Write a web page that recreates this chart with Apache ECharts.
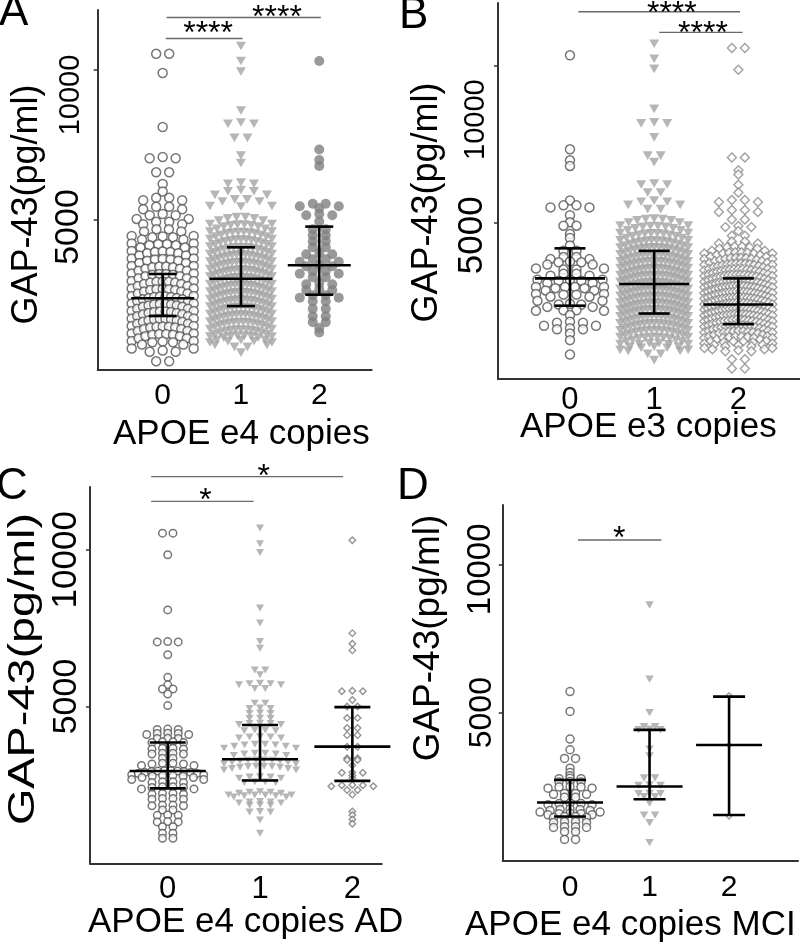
<!DOCTYPE html>
<html><head><meta charset="utf-8">
<script src="https://cdn.jsdelivr.net/npm/echarts@6/dist/echarts.min.js"></script>
<style>html,body{margin:0;padding:0;background:#fff}#c{width:800px;height:944px}</style>
</head><body><div id="c"></div>
<script>
// ---------------- DATA ----------------
const categories = ['0', '1', '2'];
const yTickValues = [5000, 10000];

// beeswarm rows: [GAP-43 value (pg/ml), number of points in the row]
const A0 = [[10550,2],[9900,1],[8100,1],[7100,3],[6600,2],[6200,1],[5950,1],[5750,4],[5450,4],[5200,5],[4950,4],[4700,6],[4450,7],[4200,8],[3950,9],[3700,9],[3450,10],[3200,10],[2950,11],[2700,11],[2450,12],[2200,12],[1950,12],[1700,12],[1450,11],[1200,10],[950,7],[650,3],[300,2]];
const A1 = [[10800,1],[10300,1],[9950,1],[8650,1],[8250,3],[7750,2],[7150,1],[6900,1],[6250,3],[6000,5],[5700,6],[5450,1],[5100,8],[4850,10],[4600,12],[4350,13],[4100,14],[3850,15],[3600,15],[3350,16],[3100,16],[2850,16],[2600,16],[2350,16],[2100,15],[1850,15],[1600,14],[1350,13],[1150,10],[1000,5],[780,2],[580,1]];
const A2 = [[10300,1],[7350,1],[7000,1],[6800,1],[5550,4],[5400,1],[5200,3],[4950,1],[4700,2],[4500,2],[4300,2],[4100,2],[3900,3],[3700,4],[3500,3],[3300,4],[3100,2],[2900,3],[2700,3],[2500,4],[2300,2],[2050,2],[1800,2],[1600,2],[1400,1],[1250,1]];

const B0 = [[10330,1],[7330,1],[6980,1],[6800,1],[5700,1],[5550,4],[5230,1],[5000,1],[4900,2],[4630,1],[4500,1],[4260,1],[4100,2],[3900,4],[3750,7],[3500,2],[3370,6],[3160,7],[2940,8],[2700,6],[2400,7],[2200,2],[2040,1],[1830,5],[1620,3],[1450,1],[1240,1],[780,1]];
const B1 = [[10700,1],[10220,1],[9900,1],[8620,1],[8190,3],[7710,1],[7140,2],[6920,1],[6240,3],[5960,2],[5690,5],[5430,2],[5120,9],[4880,10],[4650,12],[4420,14],[4200,15],[3980,16],[3760,16],[3540,17],[3320,17],[3100,17],[2880,17],[2660,17],[2440,17],[2220,16],[2000,16],[1780,15],[1560,14],[1340,12],[1150,8],[1030,5],[810,2],[600,1]];
const B2 = [[10570,2],[9870,1],[7080,2],[6660,1],[6530,1],[6200,1],[5950,1],[5720,4],[5400,4],[5100,2],[4880,3],[4720,1],[4580,2],[4400,4],[4230,10],[4050,12],[3870,14],[3690,16],[3510,17],[3330,18],[3150,19],[2970,20],[2790,20],[2610,20],[2430,20],[2250,20],[2070,19],[1890,18],[1710,17],[1530,15],[1360,12],[1210,8],[1080,5],[920,3],[640,2],[340,2]];

const C0 = [[10530,2],[9840,1],[8080,1],[7070,3],[6650,1],[5930,1],[5690,1],[5560,2],[5400,1],[5030,1],[4280,3],[4150,5],[3990,3],[3880,4],[3670,4],[3510,4],[3350,2],[3190,6],[2950,12],[2800,8],[2600,4],[2440,6],[2230,4],[2070,4],[1860,4],[1700,2],[1540,3],[1330,3],[1170,2],[960,2],[800,2]];
const C1 = [[10690,1],[10190,1],[9910,1],[8140,1],[7660,1],[7070,1],[6860,1],[6170,2],[6010,1],[5740,5],[5580,2],[5110,2],[4950,3],[4790,3],[4630,3],[4470,5],[4250,4],[4040,5],[3800,8],[3510,6],[3300,10],[3100,10],[2760,5],[2600,4],[2280,7],[2180,6],[1970,5],[1860,3],[1650,3],[1380,1],[960,1]];
const C2 = [[10300,1],[7340,1],[7000,1],[6790,1],[5500,3],[5210,1],[5000,2],[4640,2],[4320,2],[4090,2],[3720,2],[3350,2],[3300,2],[3130,1],[2900,3],[2800,1],[2710,1],[2500,5],[2340,2],[2190,1],[1650,1],[1540,1],[1400,1],[1260,1]];

const D0 = [[5710,1],[5040,1],[4110,1],[3750,1],[3460,2],[3130,1],[2980,1],[2870,1],[2790,3],[2680,3],[2510,5],[2280,4],[2150,2],[1950,5],[1750,7],[1610,5],[1500,4],[1330,4],[1160,4],[990,2],[730,2]];
const D1 = [[8630,1],[6130,1],[5000,1],[4530,2],[4440,3],[3770,1],[3540,1],[2800,2],[2560,3],[2280,3],[2170,2],[1950,1],[1550,2],[1290,1],[620,1]];
const D2 = [[5590,1],[3910,1],[1500,1]];

// median and interquartile range per group
const A_median = [2390, 3040, 3490], A_q1 = [1800, 2130, 2510], A_q3 = [3200, 4090, 4780];
const B_median = [3210, 3030, 2380], B_q1 = [2340, 2090, 1750], B_q3 = [4170, 4090, 3210];
const C_median = [2945, 3320, 3720], C_q1 = [2390, 2640, 2630], C_q3 = [3850, 4410, 4980];
const D_median = [1970, 2510, 3910], D_q1 = [1500, 2080, 1550], D_q3 = [2730, 4420, 5540];

// significance brackets: [from group, to group, bar height, label position, label height]
const A_sig = [[0.04, 1.02, 11050, 0.58, 11417], [0.05, 2.02, 11750, 1.46, 11950]];
const A_sigText = ['****', '****'];
const B_sig = [[0.10, 2.02, 11720, 1.21, 11867], [1.06, 2.05, 11060, 1.58, 11228]];
const B_sigText = ['****', '****'];
const C_sig = [[-0.18, 1.90, 12330, 1.04, 12550], [-0.18, 0.93, 11540, 0.41, 11784]];
const C_sigText = ['*', '*'];
const D_sig = [[0.10, 1.15, 10820, 0.62, 11088]];
const D_sigText = ['*'];

// ---------------- LAYOUT / STYLE ----------------
const FONT = 'Liberation Sans, Arial, sans-serif';
const triPath = 'path://M0,0L10,0L5,8.7Z';
function openCircle(size, stroke){ return {symbol:'circle', symbolSize:size, itemStyle:{color:'#fff', borderColor:stroke, borderWidth:1.5}}; }
function tri(size){ return {symbol:triPath, symbolSize:[size, size*0.87], itemStyle:{color:'#a4a4a4'}}; }
function fillCircle(size){ return {symbol:'circle', symbolSize:size, itemStyle:{color:'#7f7f7f'}}; }
function openDiamond(size, stroke){ return {symbol:'diamond', symbolSize:size, itemStyle:{color:'#fff', borderColor:stroke, borderWidth:1.4}}; }

const panels = [
  {grid:{left:97.7, top:10, width:274, height:360}, xMin:-0.83, xMax:2.67,
   groups:[A0,A1,A2], styles:[openCircle(9,'#555'), tri(10), fillCircle(10)], d:13, half:31, droop:7,
   median:A_median, q1:A_q1, q3:A_q3, bar:[31.5,14], sig:A_sig, sigText:A_sigText,
   yFont:{5000:34, 10000:29}, yShift:{5000:7, 10000:25}, xLabelSize:30, xLabelMargin:11, yLabelMargin:12},
  {grid:{left:498, top:3, width:302, height:376}, xMin:-0.855, xMax:2.732,
   groups:[B0,B1,B2], styles:[openCircle(9,'#555'), tri(10), openDiamond(9,'#8a8a8a')], d:13, half:34, droop:7,
   median:B_median, q1:B_q1, q3:B_q3, bar:[35,15.5], sig:B_sig, sigText:B_sigText,
   yFont:{5000:35, 10000:29}, yShift:{5000:13, 10000:54}, xLabelSize:31, xLabelMargin:6, yLabelMargin:8},
  {grid:{left:90, top:487, width:291.7, height:376.3}, xMin:-0.842, xMax:2.318,
   groups:[C0,C1,C2], styles:[openCircle(7.5,'#555'), tri(8), openDiamond(6.5,'#777')], d:10.5, half:36, droop:4,
   median:C_median, q1:C_q1, q3:C_q3, bar:[38,18], sig:C_sig, sigText:C_sigText,
   yFont:{5000:34, 10000:35}, yShift:{5000:-10, 10000:10}, xLabelSize:31, xLabelMargin:11, yLabelMargin:6},
  {grid:{left:502.7, top:505, width:295.3, height:356}, xMin:-0.847, xMax:2.867,
   groups:[D0,D1,D2], styles:[openCircle(8,'#555'), tri(8.5), openDiamond(5,'#888')], d:11, half:30, droop:3,
   median:D_median, q1:D_q1, q3:D_q3, bar:[33,16], sig:D_sig, sigText:D_sigText,
   yFont:{5000:32, 10000:33}, yShift:{5000:0, 10000:5}, xLabelSize:30, xLabelMargin:12, yLabelMargin:5}
];

// beeswarm layout: spread each row horizontally; slight arc like the original swarm bands
function swarm(rows, center, pxPerUnit, d, maxHalf, droop){
  const pts = [];
  rows.forEach(function(r){
    const v = r[0], n = r[1];
    const s = n > 1 ? Math.min(d, 2*maxHalf/(n-1)) : 0;
    for (let i = 0; i < n; i++) {
      const off = (i - (n-1)/2) * s;
      const dy = droop * Math.pow(off/maxHalf, 2);
      pts.push({value:[center + off/pxPerUnit, v], symbolOffset:[0, dy]});
    }
  });
  return pts;
}

const grids = [], xAxes = [], yAxes = [], series = [];
panels.forEach(function(p, pi){
  grids.push(p.grid);
  const axLine = {show:true, onZero:false, lineStyle:{color:'#333', width:2}};
  xAxes.push({type:'value', gridIndex:pi, min:p.xMin, max:p.xMax, axisLine:axLine, axisTick:{show:false},
    splitLine:{show:false},
    axisLabel:{customValues:[0,1,2], formatter:function(v){return categories[Math.round(v)];},
      fontSize:p.xLabelSize, fontFamily:FONT, color:'#000', margin:p.xLabelMargin}});
  const rich = {};
  yTickValues.forEach(function(v, k){
    const s = p.yShift[v] || 0;
    rich['t'+k] = {fontSize:p.yFont[v], fontFamily:FONT, color:'#000',
      padding: s >= 0 ? [0, 2*s, 0, 0] : [0, 0, 0, -2*s]};
  });
  yAxes.push({type:'value', gridIndex:pi, min:0, max:12000, axisLine:axLine,
    axisTick:{show:true, customValues:yTickValues, length:4, lineStyle:{color:'#333', width:1.5}},
    splitLine:{show:false},
    axisLabel:{customValues:yTickValues, rotate:90, fontSize:32, fontFamily:FONT, color:'#000', margin:p.yLabelMargin,
      formatter:function(v){ const k = yTickValues.indexOf(v); return '{t'+k+'|'+String(v)+'}'; }, rich:rich}});
  const ppu = p.grid.width/(p.xMax - p.xMin);
  p.groups.forEach(function(rows, gi){
    series.push(Object.assign({type:'scatter', xAxisIndex:pi, yAxisIndex:pi, z:2,
      data: swarm(rows, gi, ppu, p.d, p.half, p.droop), silent:true}, p.styles[gi]));
  });
  const W = p.bar[0], Cw = p.bar[1];
  series.push({type:'custom', xAxisIndex:pi, yAxisIndex:pi, z:5, clip:false, silent:true,
    data: categories.map(function(c, i){ return [i, p.median[i], p.q1[i], p.q3[i]]; }),
    renderItem: function(params, api){
      const x = api.value(0);
      const pm = api.coord([x, api.value(1)]), pl = api.coord([x, api.value(2)]), ph = api.coord([x, api.value(3)]);
      const st = {stroke:'#000', lineWidth:2.6};
      return {type:'group', children:[
        {type:'line', shape:{x1:pm[0]-W, y1:pm[1], x2:pm[0]+W, y2:pm[1]}, style:st},
        {type:'line', shape:{x1:pm[0], y1:ph[1], x2:pm[0], y2:pl[1]}, style:st},
        {type:'line', shape:{x1:pm[0]-Cw, y1:ph[1], x2:pm[0]+Cw, y2:ph[1]}, style:st},
        {type:'line', shape:{x1:pm[0]-Cw, y1:pl[1], x2:pm[0]+Cw, y2:pl[1]}, style:st}
      ]};
    }});
  series.push({type:'custom', xAxisIndex:pi, yAxisIndex:pi, z:6, clip:false, silent:true,
    data: p.sig,
    renderItem: function(params, api){
      const a = api.coord([api.value(0), api.value(2)]), b = api.coord([api.value(1), api.value(2)]);
      const t = api.coord([api.value(3), api.value(4)]);
      return {type:'group', children:[
        {type:'line', shape:{x1:a[0], y1:a[1], x2:b[0], y2:b[1]}, style:{stroke:'#6a6a6a', lineWidth:1.3}},
        {type:'text', style:{text:p.sigText[params.dataIndex], x:t[0], y:t[1]+7, fill:'#000',
          fontSize:32, fontFamily:FONT, align:'center', verticalAlign:'middle'}}
      ]};
    }});
});

function txt(text, x, y, size, opts){
  return Object.assign({type:'text', x:x, y:y, silent:true,
    style:{text:text, fontSize:size, fontFamily:FONT, fill:'#000', align:(opts&&opts.align)||'left', verticalAlign:'middle'}},
    opts&&opts.el||{});
}
const graphic = [
  txt('A', -1, 13, 44), txt('B', 399, 16, 44), txt('C', -4, 487, 44), txt('D', 397, 487, 44),
  txt('GAP-43(pg/ml)', 27, 204.5, 36, {align:'center', el:{rotation:Math.PI/2}}),
  txt('GAP-43(pg/ml)', 427, 202.5, 36, {align:'center', el:{rotation:Math.PI/2}}),
  txt('GAP-43(pg/ml)', 24, 669, 36, {align:'center', el:{rotation:Math.PI/2, scaleX:1.3}}),
  txt('GAP-43(pg/ml)', 429, 638, 37, {align:'center', el:{rotation:Math.PI/2}}),
  txt('APOE e4 copies', 113, 434, 35),
  txt('APOE e3 copies', 520, 427.5, 35),
  txt('APOE e4 copies AD', 88, 922.5, 35),
  txt('APOE e4 copies MCI', 465, 925, 35)
];

const chart = echarts.init(document.getElementById('c'), null, {renderer:'canvas'});
chart.setOption({animation:false, backgroundColor:'#fff', grid:grids, xAxis:xAxes, yAxis:yAxes, series:series, graphic:graphic});
</script></body></html>
